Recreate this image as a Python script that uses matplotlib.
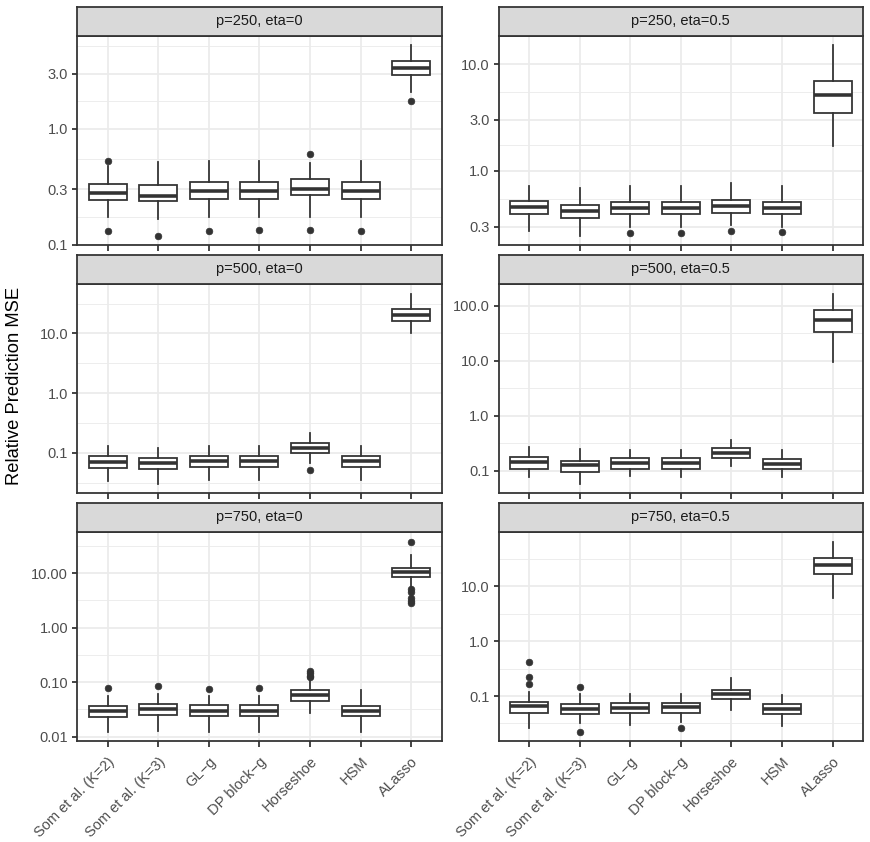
import numpy as np
import matplotlib
matplotlib.use("Agg")
import matplotlib.pyplot as plt
from matplotlib.ticker import FixedLocator, NullFormatter

plt.rcParams["font.family"] = ["Liberation Sans", "DejaVu Sans"]

methods = ["Som et al. (K=2)", "Som et al. (K=3)", "GL\u2212g", "DP block\u2212g",
           "Horseshoe", "HSM", "ALasso"]
panels = ["p=250, eta=0", "p=250, eta=0.5", "p=500, eta=0",
          "p=500, eta=0.5", "p=750, eta=0", "p=750, eta=0.5"]

# box statistics, one row per panel
whislo = [
    [0.175, 0.168, 0.172, 0.172, 0.175, 0.172, 2.1],
    [0.277, 0.249, 0.298, 0.298, 0.31, 0.298, 1.7],
    [0.0336, 0.0307, 0.0349, 0.0349, 0.0667, 0.0349, 10.2],
    [0.0748, 0.058, 0.08, 0.077, 0.122, 0.0748, 9.46],
    [0.0124, 0.0127, 0.0124, 0.0124, 0.0266, 0.0124, 5.61],
    [0.0261, 0.0322, 0.030, 0.0336, 0.0564, 0.0288, 6.04],
]
q1 = [
    [0.241, 0.237, 0.246, 0.246, 0.267, 0.246, 2.95],
    [0.399, 0.36, 0.393, 0.393, 0.408, 0.393, 3.5],
    [0.0548, 0.0528, 0.0584, 0.0584, 0.100, 0.0584, 16.0],
    [0.106, 0.0947, 0.107, 0.107, 0.166, 0.106, 33.5],
    [0.0231, 0.0248, 0.0236, 0.0236, 0.0456, 0.0234, 8.36],
    [0.0497, 0.0477, 0.0483, 0.0483, 0.0885, 0.0477, 17.1],
]
med = [
    [0.282, 0.261, 0.289, 0.289, 0.300, 0.289, 3.39],
    [0.46, 0.42, 0.454, 0.454, 0.475, 0.454, 5.13],
    [0.0708, 0.0682, 0.0736, 0.0736, 0.120, 0.0736, 20.5],
    [0.140, 0.1256, 0.138, 0.138, 0.208, 0.134, 56.0],
    [0.0298, 0.0315, 0.0298, 0.0298, 0.0588, 0.0298, 10.6],
    [0.0648, 0.0588, 0.0606, 0.063, 0.107, 0.0588, 24.5],
]
q3 = [
    [0.332, 0.326, 0.346, 0.346, 0.367, 0.346, 3.9],
    [0.525, 0.481, 0.513, 0.513, 0.533, 0.513, 6.87],
    [0.0883, 0.0827, 0.0894, 0.0894, 0.144, 0.0894, 25.8],
    [0.174, 0.149, 0.169, 0.169, 0.253, 0.164, 83.0],
    [0.0368, 0.0396, 0.0372, 0.0372, 0.0718, 0.0368, 12.6],
    [0.079, 0.0717, 0.0748, 0.0736, 0.131, 0.0726, 33.5],
]
whishi = [
    [0.48, 0.516, 0.527, 0.527, 0.51, 0.527, 5.27],
    [0.727, 0.697, 0.727, 0.727, 0.766, 0.727, 14.9],
    [0.1316, 0.119, 0.1316, 0.1316, 0.218, 0.1316, 46.7],
    [0.264, 0.246, 0.239, 0.239, 0.36, 0.239, 168.0],
    [0.0564, 0.060, 0.056, 0.056, 0.1066, 0.0727, 21.6],
    [0.117, 0.11, 0.11, 0.11, 0.214, 0.103, 65.6],
]
outliers = [
    [[0.13, 0.527], [0.12], [0.132], [0.135], [0.135, 0.607], [0.132], [1.75]],
    [[], [], [0.264], [0.264], [0.277], [0.266], []],
    [[], [], [], [], [0.0514], [], []],
    [[], [], [], [], [], [], []],
    [[0.078], [0.083], [0.075], [0.078], [0.125, 0.132, 0.145, 0.163], [],
     [2.77, 3.06, 3.43, 4.54, 5.0, 37.9]],
    [[0.169, 0.22, 0.413], [0.0226, 0.144], [], [0.0257], [], [], []],
]

y_breaks = [
    [0.1, 0.3, 1, 3],
    [0.3, 1, 3, 10],
    [0.1, 1, 10],
    [0.1, 1, 10, 100],
    [0.01, 0.1, 1, 10],
    [0.1, 1, 10],
]
y_labels = [
    ["0.1", "0.3", "1.0", "3.0"],
    ["0.3", "1.0", "3.0", "10.0"],
    ["0.1", "1.0", "10.0"],
    ["0.1", "1.0", "10.0", "100.0"],
    ["0.01", "0.10", "1.00", "10.00"],
    ["0.1", "1.0", "10.0"],
]

GREY20 = "#333333"
GREY30 = "#4D4D4D"
GREY92 = "#EBEBEB"
LW = 1.07

W, H = 870, 842
fig = plt.figure(figsize=(W / 120, H / 120), dpi=120)

col_x = [77.3, 498.6]
panel_w = 364.3
row_top = [36, 284, 532]
panel_h = 209
strip_h = 29.5

for k, name in enumerate(panels):
    r, c = divmod(k, 2)
    x0 = col_x[c]
    yb = row_top[r] + panel_h
    ax = fig.add_axes([x0 / W, (H - yb) / H, panel_w / W, panel_h / H])
    sax = fig.add_axes([x0 / W, (H - row_top[r]) / H, panel_w / W, strip_h / H])

    stats = []
    for i in range(len(methods)):
        stats.append(dict(whislo=whislo[k][i], q1=q1[k][i], med=med[k][i],
                          q3=q3[k][i], whishi=whishi[k][i],
                          fliers=outliers[k][i]))
    pos = np.arange(1, len(methods) + 1)
    ax.bxp(stats, positions=pos, widths=0.75, showcaps=False,
           patch_artist=True, manage_ticks=False,
           boxprops=dict(facecolor="white", edgecolor=GREY20, linewidth=LW),
           medianprops=dict(color=GREY20, linewidth=2 * LW, solid_capstyle="butt"),
           whiskerprops=dict(color=GREY20, linewidth=LW),
           flierprops=dict(marker="o", markerfacecolor=GREY20,
                           markeredgecolor=GREY20, markersize=4.0,
                           markeredgewidth=0.4),
           zorder=3)

    ax.set_yscale("log")
    vals = whislo[k] + whishi[k] + [v for o in outliers[k] for v in o]
    lo, hi = np.log10(min(vals)), np.log10(max(vals))
    pad = 0.05 * (hi - lo)
    ax.set_ylim(10 ** (lo - pad), 10 ** (hi + pad))
    ax.set_xlim(0.4, len(methods) + 0.6)

    # ggplot-style minor breaks: midpoints between majors, extended one step
    b = np.log10(y_breaks[k])
    ext = np.concatenate([[b[0] - (b[1] - b[0])], b, [b[-1] + (b[-1] - b[-2])]])
    minors = (ext[:-1] + ext[1:]) / 2
    minors = minors[(minors > lo - pad) & (minors < hi + pad)]

    ax.yaxis.set_major_locator(FixedLocator(y_breaks[k]))
    ax.set_yticklabels(y_labels[k])
    ax.yaxis.set_minor_locator(FixedLocator(10 ** minors))
    ax.yaxis.set_minor_formatter(NullFormatter())
    ax.set_xticks(pos)
    if r == 2:
        ax.set_xticklabels(methods, rotation=45, ha="right", va="top",
                           rotation_mode="anchor")
    else:
        ax.set_xticklabels([])

    ax.set_axisbelow(True)
    ax.grid(True, which="major", color=GREY92, linewidth=LW)
    ax.grid(True, which="minor", axis="y", color=GREY92, linewidth=LW / 2)
    ax.tick_params(which="major", length=3.3, width=LW, color=GREY20,
                   labelsize=8.8, labelcolor=GREY30, pad=2.2)
    ax.tick_params(axis="x", which="major", pad=4.8)
    ax.tick_params(which="minor", length=0)
    for s in ax.spines.values():
        s.set_color(GREY20)
        s.set_linewidth(LW)
        s.set_zorder(5)

    sax.set_facecolor("#D9D9D9")
    sax.set_xticks([])
    sax.set_yticks([])
    for s in sax.spines.values():
        s.set_color(GREY20)
        s.set_linewidth(LW)
    sax.text(0.5, 0.5, name, ha="center", va="center", fontsize=8.8,
             color="#1A1A1A", transform=sax.transAxes)

fig.text(15 / W, 1 - 386 / H, "Relative Prediction MSE", rotation=90,
         ha="center", va="center", fontsize=11)

fig.savefig("out.png", dpi=120)
